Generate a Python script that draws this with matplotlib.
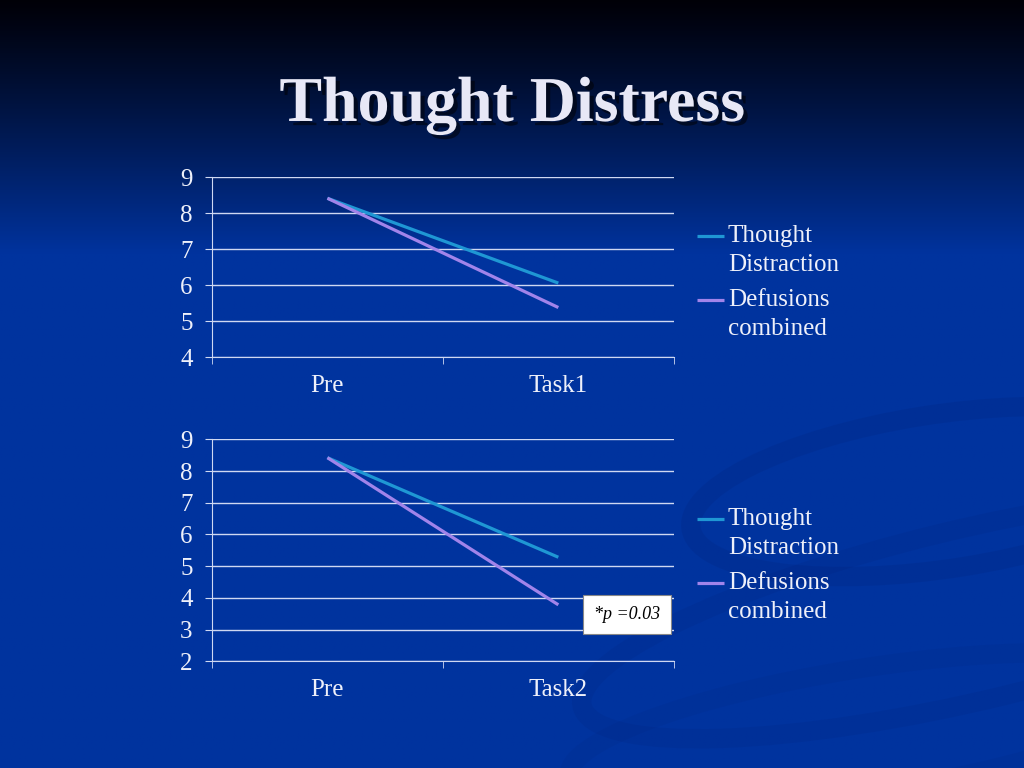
import numpy as np
import matplotlib.pyplot as plt
import matplotlib.patheffects as pe
from matplotlib.patches import Ellipse

# data
cats_top = ['Pre', 'Task1']
cats_bot = ['Pre', 'Task2']
distraction_top = [8.42, 6.06]
defusion_top = [8.42, 5.38]
distraction_bot = [8.42, 5.28]
defusion_bot = [8.42, 3.78]
series_names = [['Thought', 'Distraction'], ['Defusions', 'combined']]

c_dist = '#1f97d4'
c_defu = '#a184ea'
c_grid = '#cfd8f2'
c_text = '#eef0fa'
serif = 'Liberation Serif'

fig = plt.figure(figsize=(10.24, 7.68), dpi=100)

####### background gradient
bg = fig.add_axes([0, 0, 1, 1])
h = np.linspace(0, 1, 400)[:, None]
w = np.linspace(0, 1, 400)[None, :]
top = np.array([0.0, 0.0, 0.03])
mid = np.array([0.0, 0.2, 0.62])
t = np.clip(h / 0.33, 0, 1) ** 1.1
img = top[None, None, :] * (1 - t[..., None]) + mid[None, None, :] * t[..., None]
img = np.repeat(img, 400, axis=1)
bg.imshow(img, extent=[0, 1, 0, 1], aspect='auto', origin='upper')
# faint darker swirl on the right
for cx, cy, ww, hh, ang, a in [(0.92, 0.36, 0.5, 0.2, 12, 0.10),
                               (0.95, 0.2, 0.8, 0.22, 18, 0.08),
                               (0.85, 0.05, 0.6, 0.16, 12, 0.06)]:
    bg.add_patch(Ellipse((cx, cy), ww, hh, angle=ang, fill=False,
                         lw=14, ec=(0.0, 0.08, 0.35, a)))
bg.set_xlim(0, 1)
bg.set_ylim(0, 1)
bg.axis('off')

fig.text(0.5, 0.862, 'Thought Distress', ha='center', va='center',
         fontsize=46, fontweight='bold', family=serif, color='#e8e8f6',
         path_effects=[pe.withSimplePatchShadow(offset=(3, -3), shadow_rgbFace='black', alpha=0.5)])


def draw_panel(rect, cats, dist, defu, ymin, leg_y):
    ax = fig.add_axes(rect)
    ax.patch.set_alpha(0)
    x = np.arange(len(cats))
    ax.plot(x, dist, color=c_dist, lw=2.3, solid_capstyle='butt')
    ax.plot(x, defu, color=c_defu, lw=2.3, solid_capstyle='butt')
    ax.set_xlim(-0.5, 1.5)
    ax.set_ylim(ymin, 9)
    ax.set_yticks(np.arange(ymin, 10))
    ax.yaxis.grid(True, color=c_grid, lw=1)
    ax.set_axisbelow(True)
    ax.set_xticks(x)
    ax.set_xticklabels(cats)
    ax.set_xticks([-0.5, 0.5, 1.5], minor=True)
    ax.tick_params(axis='x', which='major', length=0, pad=13, labelsize=18, labelcolor=c_text)
    ax.tick_params(axis='x', which='minor', length=5, color=c_grid, direction='out')
    ax.tick_params(axis='y', length=5, color=c_grid, pad=9, labelsize=18, labelcolor=c_text)
    for lab in ax.get_xticklabels() + ax.get_yticklabels():
        lab.set_family(serif)
    for s in ['top', 'right']:
        ax.spines[s].set_visible(False)
    for s in ['left', 'bottom']:
        ax.spines[s].set_color(c_grid)

    # legend drawn by hand: handle sits on the first text line
    fig_h = rect[3] * 768
    line_gap = 28.5 / fig_h
    for name, col, yy in zip(series_names, [c_dist, c_defu], leg_y):
        ax.plot([1.050, 1.108], [yy, yy], color=col, lw=2.3,
                transform=ax.transAxes, clip_on=False, solid_capstyle='butt')
        for k, part in enumerate(name):
            ax.text(1.117, yy - k * line_gap, part, transform=ax.transAxes,
                    ha='left', va='center', fontsize=18, family=serif, color=c_text)
    return ax


ax1 = draw_panel([0.207, 0.535, 0.451, 0.234], cats_top, distraction_top, defusion_top, 4,
                 [0.672, 0.317])
ax2 = draw_panel([0.207, 0.139, 0.451, 0.289], cats_bot, distraction_bot, defusion_bot, 2,
                 [0.640, 0.351])

ax2.text(1.297, 3.48, '*p =0.03', ha='center', va='center', fontsize=13,
         family=serif, style='italic', color='black',
         bbox=dict(boxstyle='square,pad=0.6', fc='white', ec='#888888', lw=0.8))

plt.savefig('out.png', dpi=100)
